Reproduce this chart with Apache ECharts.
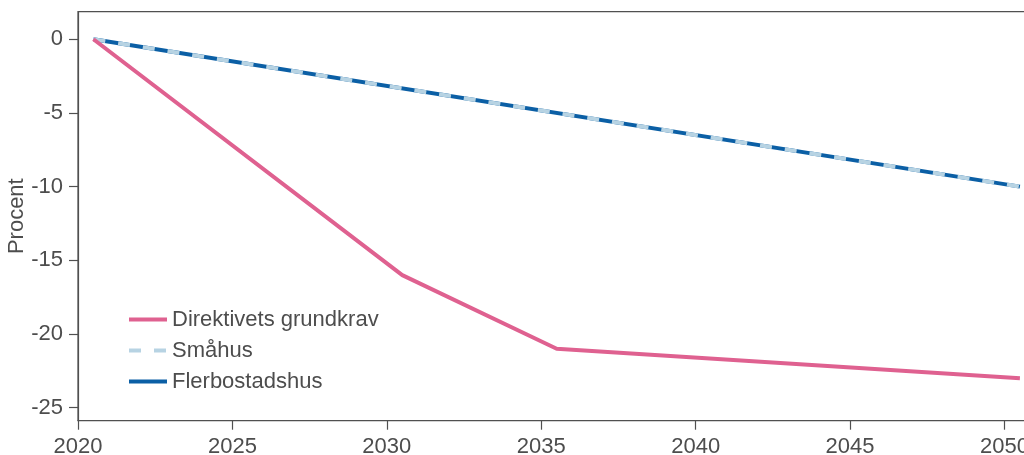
<!DOCTYPE html>
<html>
<head>
<meta charset="utf-8">
<script src="https://cdn.jsdelivr.net/npm/echarts@6/dist/echarts.min.js"></script>
<style>
html,body{margin:0;padding:0;background:#fff;}
#chart{width:1024px;height:455px;}
</style>
</head>
<body>
<div id="chart"></div>
<script>
// Data
const seriesNames = ['Direktivets grundkrav', 'Småhus', 'Flerbostadshus'];
const grundkravYears = [2020.5, 2030.5, 2035.5, 2050.5];
const grundkravValues = [0, -16, -21, -23];
const smahusYears = [2020.5, 2050.5];
const smahusValues = [0, -10];
const flerbostadYears = [2020.5, 2050.5];
const flerbostadValues = [0, -10];
const xTicks = [2020, 2025, 2030, 2035, 2040, 2045, 2050];
const yTicks = [0, -5, -10, -15, -20, -25];

const pair = (xs, ys) => xs.map((x, i) => [x, ys[i]]);

const textColor = '#4d4d4d';
const axisColor = '#505050';
const font = '"Liberation Sans", Arial, sans-serif';
const fs = 22;

const chart = echarts.init(document.getElementById('chart'));
chart.setOption({
  animation: false,
  backgroundColor: '#ffffff',
  grid: {
    left: 78, right: -20, top: 11.7, bottom: 34.3,
    outerBoundsMode: 'none', containLabel: false,
    show: true, borderColor: axisColor, borderWidth: 1.2, backgroundColor: 'transparent'
  },
  xAxis: {
    type: 'value', min: 2020, max: 2051.28,
    axisLine: { show: true, onZero: false, lineStyle: { color: axisColor, width: 1.2 } },
    axisTick: { show: true, inside: false, length: 9, customValues: xTicks, lineStyle: { color: axisColor, width: 1.2 } },
    axisLabel: { customValues: xTicks, formatter: v => String(v), color: textColor, fontSize: fs, fontFamily: font, margin: 15 },
    splitLine: { show: false }
  },
  yAxis: {
    type: 'value', min: -25.88, max: 1.87,
    name: 'Procent', nameLocation: 'middle', nameGap: 50, nameRotate: 90, nameMoveOverlap: false,
    nameTextStyle: { color: textColor, fontSize: fs, fontFamily: font },
    axisLine: { show: true, onZero: false, lineStyle: { color: axisColor, width: 1.2 } },
    axisTick: { show: true, inside: false, length: 9, customValues: yTicks, lineStyle: { color: axisColor, width: 1.2 } },
    axisLabel: { customValues: yTicks, formatter: v => String(v), color: textColor, fontSize: fs, fontFamily: font, margin: 15 },
    splitLine: { show: false }
  },
  legend: {
    orient: 'vertical', left: 127, top: 308.5, padding: 0,
    itemWidth: 38, itemHeight: 14, itemGap: 9,
    data: seriesNames,
    itemStyle: { opacity: 0 },
    lineStyle: { width: 4 },
    textStyle: { color: textColor, fontSize: fs, fontFamily: font, lineHeight: 22 }
  },
  series: [
    {
      name: seriesNames[2], type: 'line', data: pair(flerbostadYears, flerbostadValues),
      symbol: 'none', lineStyle: { color: '#0B5FA5', width: 4 }, itemStyle: { color: '#0B5FA5' }, z: 2
    },
    {
      name: seriesNames[1], type: 'line', data: pair(smahusYears, smahusValues),
      symbol: 'none', lineStyle: { color: '#B7D3E3', width: 4, type: [12, 13] }, itemStyle: { color: '#B7D3E3' }, z: 3
    },
    {
      name: seriesNames[0], type: 'line', data: pair(grundkravYears, grundkravValues),
      symbol: 'none', lineStyle: { color: '#DF6190', width: 4 }, itemStyle: { color: '#DF6190' }, z: 4
    }
  ]
});
</script>
</body>
</html>
